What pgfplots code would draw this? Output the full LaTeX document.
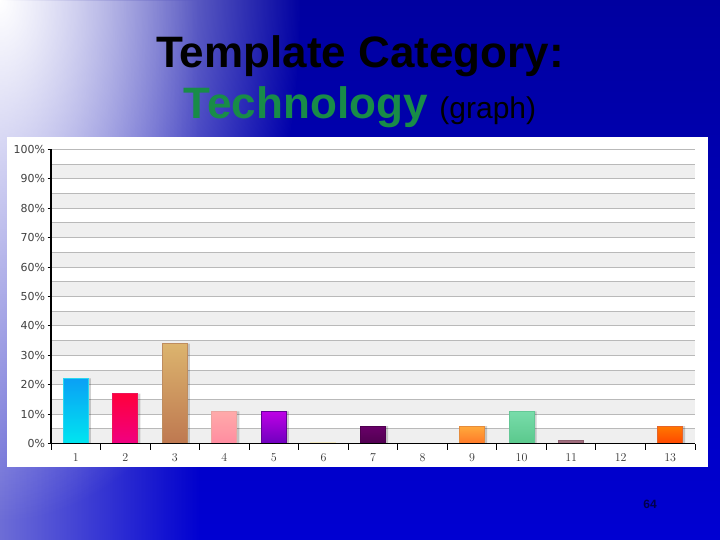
\documentclass[border=0pt]{standalone}
\usepackage{fontspec}
\setmainfont{Liberation Sans}
\newfontfamily\tickfont{DejaVu Sans}
\newfontfamily\xfont{DejaVu Serif}
\usepackage{pgfplots}
\pgfplotsset{compat=1.18}
\usetikzlibrary{fadings}

\definecolor{bgtop}{RGB}{0,0,160}
\definecolor{bgbot}{RGB}{0,0,210}
\definecolor{lav}{RGB}{110,110,215}
\definecolor{band}{RGB}{239,239,239}
\definecolor{gline}{RGB}{185,185,185}
\definecolor{techgreen}{RGB}{24,140,72}

% bar colours: border, top, bottom
\definecolor{b1d}{RGB}{40,215,240}  \definecolor{b1t}{RGB}{10,160,245}  \definecolor{b1b}{RGB}{0,230,240}
\definecolor{b2d}{RGB}{235,20,90}   \definecolor{b2t}{RGB}{255,0,60}    \definecolor{b2b}{RGB}{240,0,130}
\definecolor{b3d}{RGB}{190,140,95}  \definecolor{b3t}{RGB}{220,180,110} \definecolor{b3b}{RGB}{190,120,80}
\definecolor{b4d}{RGB}{235,165,160} \definecolor{b4t}{RGB}{255,170,170} \definecolor{b4b}{RGB}{255,140,160}
\definecolor{b5d}{RGB}{100,0,150}   \definecolor{b5t}{RGB}{190,0,230}   \definecolor{b5b}{RGB}{110,0,190}
\definecolor{b6d}{RGB}{240,230,190} \definecolor{b6t}{RGB}{255,250,220} \definecolor{b6b}{RGB}{255,250,220}
\definecolor{b7d}{RGB}{80,0,80}     \definecolor{b7t}{RGB}{105,0,105}   \definecolor{b7b}{RGB}{80,0,80}
\definecolor{b9d}{RGB}{230,140,60}  \definecolor{b9t}{RGB}{255,170,60}  \definecolor{b9b}{RGB}{255,120,40}
\definecolor{b10d}{RGB}{100,200,150} \definecolor{b10t}{RGB}{120,220,170} \definecolor{b10b}{RGB}{90,200,140}
\definecolor{b11d}{RGB}{140,95,110} \definecolor{b11t}{RGB}{160,110,125} \definecolor{b11b}{RGB}{150,100,120}
\definecolor{b13d}{RGB}{230,100,40} \definecolor{b13t}{RGB}{255,120,0}  \definecolor{b13b}{RGB}{255,70,0}

\tikzfading[name=fadeR, left color=transparent!0, right color=transparent!100]
\tikzfading[name=glow, inner color=transparent!0, outer color=transparent!100]

\pgfplotsset{
  gbar/.style={ybar, bar width=25pt, bar shift=0pt,
    draw=#1d, line width=1pt, top color=#1t, bottom color=#1b},
  sbar/.style={ybar, bar width=25pt, bar shift=2.5pt,
    draw=none, fill=black, fill opacity=0.18},
}

\begin{document}
\begin{tikzpicture}
% slide background
\shade[top color=bgtop, bottom color=bgbot] (0,0) rectangle (720pt,540pt);
\begin{scope}
\clip (0,0) rectangle (720pt,540pt);
\fill[lav, path fading=fadeR] (0,0) rectangle (200pt,540pt);
\fill[white, path fading=glow] (0,540pt) ellipse [x radius=300pt, y radius=520pt];
\end{scope}

% title
\node[anchor=base, font=\fontsize{44}{48}\selectfont\bfseries] at (360pt,472pt) {Template Category:};
\node[anchor=base] at (360pt,421pt) {\fontsize{44}{48}\selectfont\bfseries\color{techgreen}Technology\hspace{12pt}\fontsize{30}{34}\selectfont\mdseries\color{black}(graph)};
\node[anchor=base, font=\fontsize{12}{14}\selectfont\bfseries, text=black!70!blue] at (650pt,31pt) {64};

% chart panel
\fill[white] (7pt,73pt) rectangle (708pt,403pt);

\begin{axis}[
  at={(51pt,96.3pt)}, anchor=south west,
  scale only axis, width=644pt, height=294.4pt,
  axis on top,
  xmin=0.5, xmax=13.5, ymin=0, ymax=100,
  axis lines*=left,
  axis line style={black, line width=1.2pt},
  xtick={1,...,13},
  minor xtick={0.5,1.5,...,13.5},
  major x tick style={draw=none},
  minor x tick style={black, line width=1pt},
  minor tick length=6pt,
  ytick={0,10,...,100},
  yticklabels={0\%,10\%,20\%,30\%,40\%,50\%,60\%,70\%,80\%,90\%,100\%},
  major y tick style={black, line width=1pt},
  major tick length=3.5pt,
  tick align=outside,
  yticklabel style={font=\tickfont\fontsize{11}{13}\selectfont, text=black!75, xshift=1pt},
  xticklabel style={font=\xfont\fontsize{11.5}{13}\selectfont, text=black!80, yshift=-3pt},
  clip=false,
]
% alternating bands and 5% rules
\pgfplotsinvokeforeach{0,10,...,90}{
  \fill[band] (axis cs:0.5,#1) rectangle (axis cs:13.5,#1+5);
}
\pgfplotsinvokeforeach{5,10,...,100}{
  \draw[gline, line width=1pt] (axis cs:0.5,#1) -- (axis cs:13.5,#1);
}

% soft shadows behind the bars
\addplot[sbar] coordinates {(1,22.2) (2,17) (3,34) (4,11) (5,11) (7,6) (9,6) (10,11) (13,6)};

\addplot[gbar=b1] coordinates {(1,22.2)};
\addplot[gbar=b2] coordinates {(2,17)};
\addplot[gbar=b3] coordinates {(3,34)};
\addplot[gbar=b4] coordinates {(4,11)};
\addplot[gbar=b5] coordinates {(5,11)};
\addplot[gbar=b6] coordinates {(6,0.5)};
\addplot[gbar=b7] coordinates {(7,6)};
\addplot[gbar=b9] coordinates {(9,6)};
\addplot[gbar=b10] coordinates {(10,11)};
\addplot[gbar=b11] coordinates {(11,1)};
\addplot[gbar=b13] coordinates {(13,6)};
\end{axis}
\end{tikzpicture}
\end{document}
